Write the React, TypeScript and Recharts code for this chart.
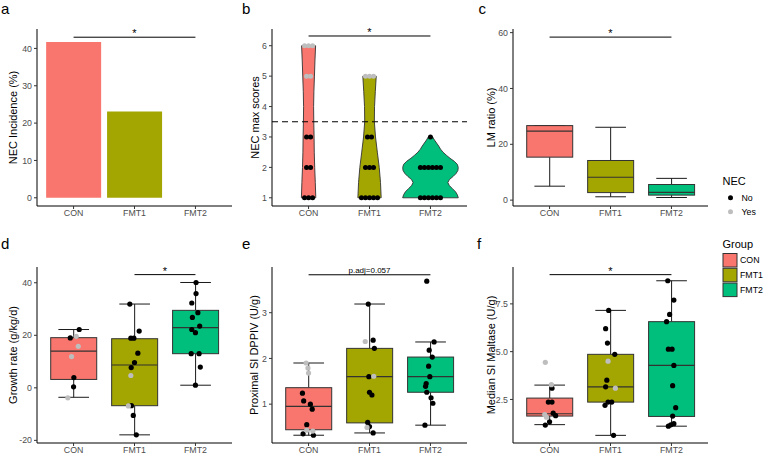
import React from 'react';
import { ComposedChart, Bar, Cell, Scatter, XAxis, YAxis, ReferenceLine, Label } from 'recharts';

const FONT = '"Liberation Sans", Arial, Helvetica, sans-serif';

// ---------- shared ----------
const groups = ['CON', 'FMT1', 'FMT2'];
const groupColors = ['#F8766D', '#A3A500', '#00BF7D'];
const necLegend = ['No', 'Yes'];
const necColors = ['#000000', '#BEBEBE'];

// ---------- a: NEC incidence ----------
const necIncidence = [41.7, 23.1, 0];
const ticksA = [0, 10, 20, 30, 40];

// ---------- b: NEC max scores ----------
const scoresCON = [6, 6, 6, 5, 5, 3, 3, 2, 2, 1, 1, 1];
const necCON_b = [1, 1, 1, 1, 1, 0, 0, 0, 0, 0, 0, 0];
const scoresFMT1 = [5, 5, 5, 3, 3, 2, 2, 2, 1, 1, 1, 1, 1];
const necFMT1_b = [1, 1, 1, 0, 0, 0, 0, 0, 0, 0, 0, 0, 0];
const scoresFMT2 = [3, 2, 2, 2, 2, 2, 2, 1, 1, 1, 1, 1, 1];
const necFMT2_b = [0, 0, 0, 0, 0, 0, 0, 0, 0, 0, 0, 0, 0];
// violin density profiles: [score, half width in category units]
const violinCON = [[1, 0.118], [1.5, 0.11], [2, 0.1], [2.5, 0.093], [3, 0.09], [3.5, 0.085], [4, 0.082], [4.5, 0.087], [5, 0.096], [5.5, 0.104], [6, 0.115]];
const violinFMT1 = [[1, 0.191], [1.5, 0.18], [2, 0.159], [2.5, 0.128], [3, 0.098], [3.5, 0.079], [4, 0.082], [4.5, 0.095], [5, 0.11]];
const violinFMT2 = [[1, 0.456], [1.1, 0.44], [1.2, 0.41], [1.3, 0.36], [1.4, 0.31], [1.5, 0.285], [1.6, 0.31], [1.7, 0.37], [1.8, 0.42], [1.9, 0.45], [2, 0.455], [2.1, 0.44], [2.2, 0.39], [2.3, 0.32], [2.4, 0.26], [2.5, 0.205], [2.6, 0.165], [2.7, 0.135], [2.8, 0.1], [2.9, 0.065], [3, 0.036]];
const ticksB = [1, 2, 3, 4, 5, 6];
const necThreshold = 3.5;

// ---------- c: LM ratio (whisker low, q1, median, q3, whisker high) ----------
const lmCON = [5.0, 15.4, 24.7, 26.7, 26.7];
const lmFMT1 = [1.2, 2.7, 8.2, 14.2, 26.1];
const lmFMT2 = [0.95, 1.8, 2.75, 5.6, 7.8];
const ticksC = [0, 20, 40, 60];

// ---------- d: growth rate ----------
const growthBoxCON = [-3.6, 3.2, 14.0, 19.1, 22.2];
const growthBoxFMT1 = [-17.9, -6.8, 8.7, 18.7, 31.9];
const growthBoxFMT2 = [1.0, 13.0, 22.9, 29.5, 40.1];
const growthCON = [22.2, 19.0, 19.6, 15.8, 11.9, 3.9, 0.4, -3.8];
const growthNecCON = [0, 0, 1, 1, 1, 0, 0, 1];
const growthJitCON = [0.093, -0.054, 0.044, 0.077, -0.033, 0.005, 0.0, -0.094];
const growthFMT1 = [31.9, 21.6, 18.9, 18.9, 13.2, 9.6, 7.7, 4.7, -6.9, -6.8, -10.5, -17.9];
const growthNecFMT1 = [0, 0, 0, 0, 0, 0, 0, 1, 1, 0, 0, 0];
const growthJitFMT1 = [-0.077, 0.077, -0.06, -0.01, 0.055, 0.0, -0.054, -0.06, -0.1, -0.05, -0.02, 0.03];
const growthFMT2 = [40.1, 35.9, 32.3, 28.6, 26.8, 23.5, 22.2, 21.0, 13.0, 13.0, 7.9, 1.0];
const growthNecFMT2 = [0, 0, 0, 0, 0, 0, 0, 0, 0, 0, 0, 0];
const growthJitFMT2 = [0.01, 0.01, -0.06, 0.04, -0.05, 0.07, -0.06, 0.0, -0.07, 0.06, 0.08, 0.0];
const ticksD = [-20, 0, 20, 40];

// ---------- e: proximal SI DPPIV ----------
const dppivBoxCON = [0.32, 0.44, 0.95, 1.36, 1.9];
const dppivBoxFMT1 = [0.37, 0.59, 1.6, 2.22, 3.19];
const dppivBoxFMT2 = [0.54, 1.26, 1.6, 2.03, 2.36];
const dppivCON = [1.9, 1.79, 1.68, 1.24, 1.07, 1.0, 0.89, 0.55, 0.43, 0.41, 0.35, 0.32];
const dppivNecCON = [1, 1, 1, 0, 0, 0, 0, 0, 1, 1, 0, 0];
const dppivJitCON = [-0.04, -0.01, 0.0, -0.1, -0.08, 0.03, 0.06, -0.03, -0.03, 0.07, -0.09, 0.08];
const dppivFMT1 = [3.19, 2.37, 2.4, 2.22, 1.61, 1.6, 1.26, 1.2, 0.6, 0.51, 0.49, 0.37];
const dppivNecFMT1 = [0, 1, 0, 0, 1, 0, 0, 0, 0, 0, 1, 0];
const dppivJitFMT1 = [-0.02, -0.07, 0.06, 0.08, 0.07, -0.01, 0.0, 0.04, -0.03, 0.0, -0.04, 0.06];
const dppivFMT2 = [3.69, 2.36, 2.18, 2.03, 1.83, 1.6, 1.45, 1.39, 1.26, 1.14, 1.02, 0.54];
const dppivNecFMT2 = [0, 0, 0, 0, 0, 0, 0, 0, 0, 0, 0, 0];
const dppivJitFMT2 = [-0.06, 0.06, -0.02, 0.03, -0.03, -0.01, -0.07, -0.08, -0.06, 0.01, 0.04, -0.09];
const ticksE = [1, 2, 3];

// ---------- f: median SI maltase ----------
const maltBoxCON = [1.18, 1.63, 1.75, 2.57, 3.25];
const maltBoxFMT1 = [0.62, 2.36, 3.16, 4.86, 7.16];
const maltBoxFMT2 = [1.1, 1.61, 4.28, 6.57, 8.71];
const maltCON = [4.44, 3.27, 3.09, 2.36, 2.36, 1.71, 1.57, 1.78, 1.65, 1.33, 1.16];
const maltNecCON = [1, 1, 0, 0, 0, 1, 1, 0, 0, 0, 0];
const maltJitCON = [-0.07, 0.03, 0.04, -0.02, 0.04, -0.08, -0.05, 0.06, 0.1, 0.0, -0.07];
const maltFMT1 = [7.16, 6.2, 5.45, 4.86, 4.5, 3.51, 3.16, 3.09, 2.36, 2.36, 2.19, 0.62];
const maltNecFMT1 = [0, 0, 0, 0, 1, 0, 0, 1, 0, 0, 0, 0];
const maltJitFMT1 = [-0.03, -0.08, -0.05, 0.07, -0.04, -0.06, -0.08, 0.08, -0.04, 0.02, -0.09, 0.05];
const maltFMT2 = [8.71, 7.7, 6.95, 6.57, 5.13, 5.13, 4.28, 3.22, 2.07, 1.63, 1.23, 1.17, 1.1];
const maltNecFMT2 = [0, 0, 0, 0, 0, 0, 0, 0, 0, 0, 0, 0, 0];
const maltJitFMT2 = [-0.06, 0.04, -0.03, -0.08, -0.05, 0.01, 0.04, 0.02, 0.07, 0.02, 0.04, -0.01, -0.05];
const ticksF = [2.5, 5.0, 7.5];

// ---------- builders ----------
const boxData = (stats: number[][]) =>
  groups.map((name, i) => ({ name, box: [stats[i][1], stats[i][3]], stats: stats[i], fill: groupColors[i] }));

const jitterPoints = (vals: number[][], nec: number[][], jit: number[][], flag: number) => {
  const out: { x: number; y: number }[] = [];
  vals.forEach((arr, g) => arr.forEach((v, k) => {
    if (nec[g][k] === flag) out.push({ x: g + 1 + jit[g][k], y: v });
  }));
  return out;
};

const DOT_STEP = 0.066;
const stackPoints = (scores: number[][], nec: number[][], flag: number) => {
  const out: { x: number; y: number }[] = [];
  scores.forEach((arr, g) => {
    const levels = Array.from(new Set(arr));
    levels.forEach((lv) => {
      const idx = arr.map((s, k) => (s === lv ? k : -1)).filter((k) => k >= 0);
      idx.forEach((k, j) => {
        if (nec[g][k] === flag) out.push({ x: g + 1 + (j - (idx.length - 1) / 2) * DOT_STEP, y: lv });
      });
    });
  });
  return out;
};

// ---------- shapes ----------
function BoxShape(props: any) {
  const { x, y, width, height, payload } = props;
  const [lo, q1, med, q3, hi] = payload.stats;
  const top = Math.min(y, y + height);
  const bot = Math.max(y, y + height);
  const py = (v: number) => bot - ((v - q1) / (q3 - q1)) * (bot - top);
  const cx = x + width / 2;
  const cap = (width * (0.5 / 0.75)) / 2;
  const wc = '#1a1a1a';
  return (
    <g>
      <line x1={cx} x2={cx} y1={py(hi)} y2={top} stroke={wc} strokeWidth={1} />
      <line x1={cx} x2={cx} y1={bot} y2={py(lo)} stroke={wc} strokeWidth={1} />
      <line x1={cx - cap} x2={cx + cap} y1={py(hi)} y2={py(hi)} stroke={wc} strokeWidth={1} />
      <line x1={cx - cap} x2={cx + cap} y1={py(lo)} y2={py(lo)} stroke={wc} strokeWidth={1} />
      <rect x={x} y={top} width={width} height={bot - top} fill={payload.fill} stroke="#333" strokeWidth={1} />
      <line x1={x} x2={x + width} y1={py(med)} y2={py(med)} stroke="#333" strokeWidth={1.2} />
    </g>
  );
}

function ViolinShape(props: any) {
  const { x, y, width, height, payload } = props;
  const [lo, hi] = payload.range;
  const top = Math.min(y, y + height);
  const bot = Math.max(y, y + height);
  const py = (v: number) => bot - ((v - lo) / (hi - lo)) * (bot - top);
  const cx = x + width / 2;
  const prof: number[][] = payload.profile;
  const right = prof.map(([v, w]) => `${cx + w * width},${py(v)}`);
  const left = prof.slice().reverse().map(([v, w]) => `${cx - w * width},${py(v)}`);
  const d = 'M' + right.join('L') + 'L' + left.join('L') + 'Z';
  return <path d={d} fill={payload.fill} stroke="#333" strokeWidth={0.9} />;
}

const dotShape = (fill: string, r: number) => (p: any) => <circle cx={p.cx} cy={p.cy} r={r} fill={fill} />;

// ---------- panel ----------
type Cfg = {
  left: number; top: number; height: number;
  plotLeft: number; plotTop: number; plotRight: number; plotBottom: number;
  domain: [number, number]; ticks: number[]; fmt?: (v: number) => string;
  title: string; titleX: number; gap: number | string; data: any[];
};

const TICK_FS = 8.8;
const TITLE_FS = 11;

function Panel({ cfg, children }: { cfg: Cfg; children: React.ReactNode }) {
  const width = cfg.plotRight + 8 - cfg.left;
  const yw = cfg.plotLeft - cfg.left;
  const xh = cfg.top + cfg.height - cfg.plotBottom;
  const pad = (cfg.plotRight - cfg.plotLeft) / 32;
  return (
    <div style={{ position: 'absolute', left: cfg.left, top: cfg.top }}>
      <ComposedChart
        width={width}
        height={cfg.height}
        data={cfg.data}
        margin={{ top: cfg.plotTop - cfg.top, right: 8, bottom: 0, left: 0 }}
        barCategoryGap={cfg.gap}
      >
        <XAxis
          xAxisId="c"
          dataKey="name"
          type="category"
          padding={{ left: pad, right: pad }}
          height={xh}
          interval={0}
          tickSize={3}
          tickMargin={0.5}
          axisLine={{ stroke: '#000', strokeWidth: 1 }}
          tickLine={{ stroke: '#333' }}
          tick={{ fontSize: TICK_FS, fill: '#4d4d4d' }}
        />
        <XAxis xAxisId="n" dataKey="x" type="number" domain={[0.4, 3.6]} allowDataOverflow hide />
        <YAxis
          domain={cfg.domain}
          ticks={cfg.ticks}
          allowDataOverflow
          width={yw}
          interval={0}
          tickSize={3}
          tickMargin={2}
          tickFormatter={cfg.fmt}
          axisLine={{ stroke: '#000', strokeWidth: 1 }}
          tickLine={{ stroke: '#333' }}
          tick={{ fontSize: TICK_FS, fill: '#4d4d4d' }}
        >
          <Label
            value={cfg.title}
            angle={-90}
            position="insideLeft"
            offset={cfg.titleX - cfg.left}
            textAnchor="middle"
            style={{ fontSize: TITLE_FS, fill: '#000' }}
          />
        </YAxis>
        {children}
      </ComposedChart>
    </div>
  );
}

const sig = (x1: number, x2: number, y: number, text: string, fs: number, off: number) => (
  <ReferenceLine
    xAxisId="n"
    segment={[{ x: x1, y }, { x: x2, y }]}
    stroke="#000"
    strokeWidth={1}
    ifOverflow="visible"
    label={{ value: text, position: 'top', fontSize: fs, fill: '#000', offset: off }}
  />
);

const scatterPair = (vals: number[][], nec: number[][], jit: number[][]) => [
  <Scatter key="no" xAxisId="n" dataKey="y" data={jitterPoints(vals, nec, jit, 0)} shape={dotShape(necColors[0], 2.6)} isAnimationActive={false} />,
  <Scatter key="yes" xAxisId="n" dataKey="y" data={jitterPoints(vals, nec, jit, 1)} shape={dotShape(necColors[1], 2.6)} isAnimationActive={false} />,
];

export default function App() {
  const dataA = groups.map((name, i) => ({ name, value: necIncidence[i] }));
  const dataB = [
    { name: 'CON', range: [1, 6], profile: violinCON, fill: groupColors[0] },
    { name: 'FMT1', range: [1, 5], profile: violinFMT1, fill: groupColors[1] },
    { name: 'FMT2', range: [1, 3], profile: violinFMT2, fill: groupColors[2] },
  ];
  const scoresAll = [scoresCON, scoresFMT1, scoresFMT2];
  const necAllB = [necCON_b, necFMT1_b, necFMT2_b];

  const top0 = { top: 0, height: 222, plotTop: 29, plotBottom: 206 };
  const top1 = { top: 220, height: 234, plotTop: 267, plotBottom: 443 };
  const col0 = { left: 0, plotLeft: 37, plotRight: 232 };
  const col1 = { left: 240, plotLeft: 272, plotRight: 467 };
  const col2 = { left: 480, plotLeft: 513, plotRight: 708 };

  const cfgA: Cfg = { ...top0, ...col0, domain: [-2.2, 45.2], ticks: ticksA, title: 'NEC Incidence (%)', titleX: 13, gap: '5%', data: dataA };
  const cfgB: Cfg = { ...top0, ...col1, domain: [0.73, 6.55], ticks: ticksB, title: 'NEC max scores', titleX: 255.5, gap: 0, data: dataB };
  const cfgC: Cfg = { ...top0, ...col2, domain: [-2.1, 61.3], ticks: ticksC, title: 'LM ratio (%)', titleX: 491, gap: '12.5%', data: boxData([lmCON, lmFMT1, lmFMT2]) };
  const cfgD: Cfg = { ...top1, ...col0, domain: [-21, 46], ticks: ticksD, title: 'Growth rate (g/kg/d)', titleX: 12.7, gap: '12.5%', data: boxData([growthBoxCON, growthBoxFMT1, growthBoxFMT2]) };
  const cfgE: Cfg = { ...top1, ...col1, domain: [0.15, 4.0], ticks: ticksE, title: 'Proximal SI DPPIV (U/g)', titleX: 254, gap: '12.5%', data: boxData([dppivBoxCON, dppivBoxFMT1, dppivBoxFMT2]) };
  const cfgF: Cfg = { ...top1, ...col2, domain: [0.22, 9.43], ticks: ticksF, fmt: (v) => v.toFixed(1), title: 'Median SI Maltase (U/g)', titleX: 491, gap: '12.5%', data: boxData([maltBoxCON, maltBoxFMT1, maltBoxFMT2]) };

  return (
    <div style={{ position: 'absolute', left: 0, top: 0, width: 764, height: 454, background: '#fff', fontFamily: FONT, overflow: 'hidden' }}>
      <Panel cfg={cfgA}>
        <Bar xAxisId="c" dataKey="value" isAnimationActive={false}>
          {dataA.map((d, i) => <Cell key={d.name} fill={groupColors[i]} />)}
        </Bar>
        {sig(1, 3, 43, '*', 11, 0)}
      </Panel>

      <Panel cfg={cfgB}>
        <Bar xAxisId="c" dataKey="range" shape={ViolinShape} isAnimationActive={false} />
        <Scatter xAxisId="n" dataKey="y" data={stackPoints(scoresAll, necAllB, 0)} shape={dotShape(necColors[0], 2.5)} isAnimationActive={false} />
        <Scatter xAxisId="n" dataKey="y" data={stackPoints(scoresAll, necAllB, 1)} shape={dotShape(necColors[1], 2.5)} isAnimationActive={false} />
        <ReferenceLine xAxisId="n" y={necThreshold} stroke="#000" strokeWidth={1} strokeDasharray="6 4" />
        {sig(1, 3, 6.32, '*', 11, 0)}
      </Panel>

      <Panel cfg={cfgC}>
        <Bar xAxisId="c" dataKey="box" shape={BoxShape} isAnimationActive={false} />
        {sig(1, 3, 58.4, '*', 11, 0)}
      </Panel>

      <Panel cfg={cfgD}>
        <Bar xAxisId="c" dataKey="box" shape={BoxShape} isAnimationActive={false} />
        {scatterPair([growthCON, growthFMT1, growthFMT2], [growthNecCON, growthNecFMT1, growthNecFMT2], [growthJitCON, growthJitFMT1, growthJitFMT2])}
        {sig(2, 3, 43.1, '*', 11, 0)}
      </Panel>

      <Panel cfg={cfgE}>
        <Bar xAxisId="c" dataKey="box" shape={BoxShape} isAnimationActive={false} />
        {scatterPair([dppivCON, dppivFMT1, dppivFMT2], [dppivNecCON, dppivNecFMT1, dppivNecFMT2], [dppivJitCON, dppivJitFMT1, dppivJitFMT2])}
        {sig(1, 3, 3.83, 'p.adj=0.057', 8, 1.5)}
      </Panel>

      <Panel cfg={cfgF}>
        <Bar xAxisId="c" dataKey="box" shape={BoxShape} isAnimationActive={false} />
        {scatterPair([maltCON, maltFMT1, maltFMT2], [maltNecCON, maltNecFMT1, maltNecFMT2], [maltJitCON, maltJitFMT1, maltJitFMT2])}
        {sig(1, 3, 9.03, '*', 11, 0)}
      </Panel>

      <svg width={764} height={454} style={{ position: 'absolute', left: 0, top: 0, pointerEvents: 'none' }}>
        <g fontSize={15} fill="#000">
          <text x={1} y={13.5}>a</text>
          <text x={242} y={13.5}>b</text>
          <text x={478.5} y={13.5}>c</text>
          <text x={1} y={248.5}>d</text>
          <text x={242} y={249}>e</text>
          <text x={477} y={249}>f</text>
        </g>
        <text x={722.5} y={185} fontSize={11} fill="#000">NEC</text>
        {necLegend.map((lab, i) => (
          <g key={lab}>
            <circle cx={730.5} cy={197.7 + i * 14} r={2.5} fill={necColors[i]} />
            <text x={741.5} y={197.7 + i * 14 + 3.1} fontSize={TICK_FS} fill="#000">{lab}</text>
          </g>
        ))}
        <text x={722.5} y={248.3} fontSize={11} fill="#000">Group</text>
        {groups.map((g, i) => (
          <g key={g}>
            <rect x={723} y={253.5 + i * 14.8} width={14} height={13.5} fill={groupColors[i]} stroke="#333" strokeWidth={1} />
            <text x={740} y={260.3 + i * 14.8 + 3.1} fontSize={TICK_FS} fill="#000">{g}</text>
          </g>
        ))}
      </svg>
    </div>
  );
}
